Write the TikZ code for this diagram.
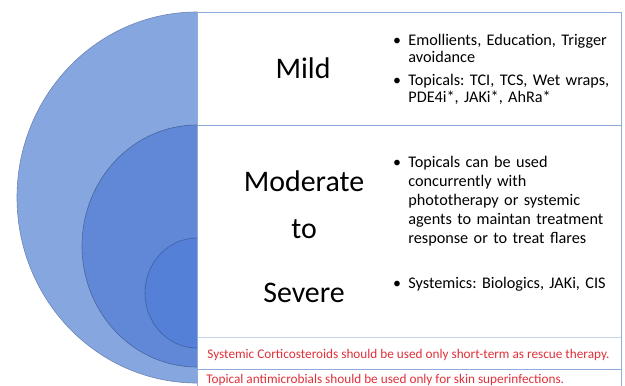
\documentclass[tikz,border=0pt]{standalone}
\usepackage{fontspec}
\setmainfont{Carlito}
\usepackage{xcolor}
\usepackage{tikz}
\usetikzlibrary{positioning}
\tikzset{every picture/.style={line width=0.75pt}}
\frenchspacing
\definecolor{ringA}{HTML}{86A6E0}
\definecolor{ringB}{HTML}{6088D6}
\definecolor{ringC}{HTML}{5580D8}
\definecolor{rule}{HTML}{8FAADC}
\definecolor{softrule}{HTML}{C9D3E8}
\definecolor{warn}{HTML}{E0303A}
\tikzset{
  big/.style={font=\fontsize{30}{36}\selectfont, anchor=base, inner sep=0pt},
  dot/.style={font=\fontsize{16}{17.5}\selectfont, anchor=base, inner sep=0pt},
  txt/.style={anchor=base west, inner sep=0pt, text width=214bp, align=left, font=\fontsize{16.3}{17.5}\selectfont},
  txtwide/.style={txt, font=\fontsize{16.3}{19.3}\selectfont},
  note/.style={text=warn, anchor=base west, inner sep=0pt, font=\fontsize{13.3}{14}\selectfont},
}

\begin{document}
\begin{tikzpicture}[x=1bp,y=-1bp]
\useasboundingbox (0,0) rectangle (625,385);
% half rings
\begin{scope}
\clip (0,0) rectangle (197.5,385);
\fill [ringA] (197,197.5) ellipse (180 and 185.5);
\draw [ringA!80!black, line width=0.6bp] (197,197.5) ellipse (180 and 185.5);
\fill [ringB] (197,246) ellipse (115 and 121);
\draw [ringB!75!black, line width=0.6bp] (197,246) ellipse (115 and 121);
\fill [ringC] (197,293) ellipse (52 and 55);
\draw [ringC!75!black, line width=0.6bp] (197,293) ellipse (52 and 55);
\end{scope}
%
% table
\fill [white] (197,12) rectangle (621,386);
\draw [softrule, line width=1bp] (197,337) -- (621,337);
\draw [rule, line width=1bp] (197,125) -- (621,125);
\draw [rule, line width=1bp] (197,369) -- (621,369);
\draw [rule, line width=1bp] (197,386) -- (197,12) -- (621,12) -- (621,386);
%
\node [big] (mild) at (303,78) {Mild};
\node [dot] (b1) at (397,45) {\textbullet};
\node [txt] (t1) at (408,45) {Emollients, Education, Trigger\\avoidance};
\node [dot] (b2) at (397,85) {\textbullet};
\node [txt] (t2) at (408,85) {Topicals: TCI, TCS, Wet wraps,\\PDE4i*, JAKi*, AhRa*};
%
\node [big] (mod) at (304,191) {Moderate};
\node [big] (to) at (304,238) {to};
\node [big] (sev) at (304,302) {Severe};
\node [dot] (b3) at (397,167) {\textbullet};
\node [txtwide] (t3) at (408,167) {Topicals can be used\\concurrently with\\phototherapy or systemic\\agents to maintan treatment\\response or to treat flares};
\node [dot] (b4) at (397,288) {\textbullet};
\node [txt] (t4) at (408,288) {Systemics: Biologics, JAKi, CIS};
%
\node [note] (n1) at (207,358) {Systemic Corticosteroids should be used only short-term as rescue therapy.};
\node [note] (n2) at (206,383) {Topical antimicrobials should be used only for skin superinfections.};
\end{tikzpicture}
\end{document}
